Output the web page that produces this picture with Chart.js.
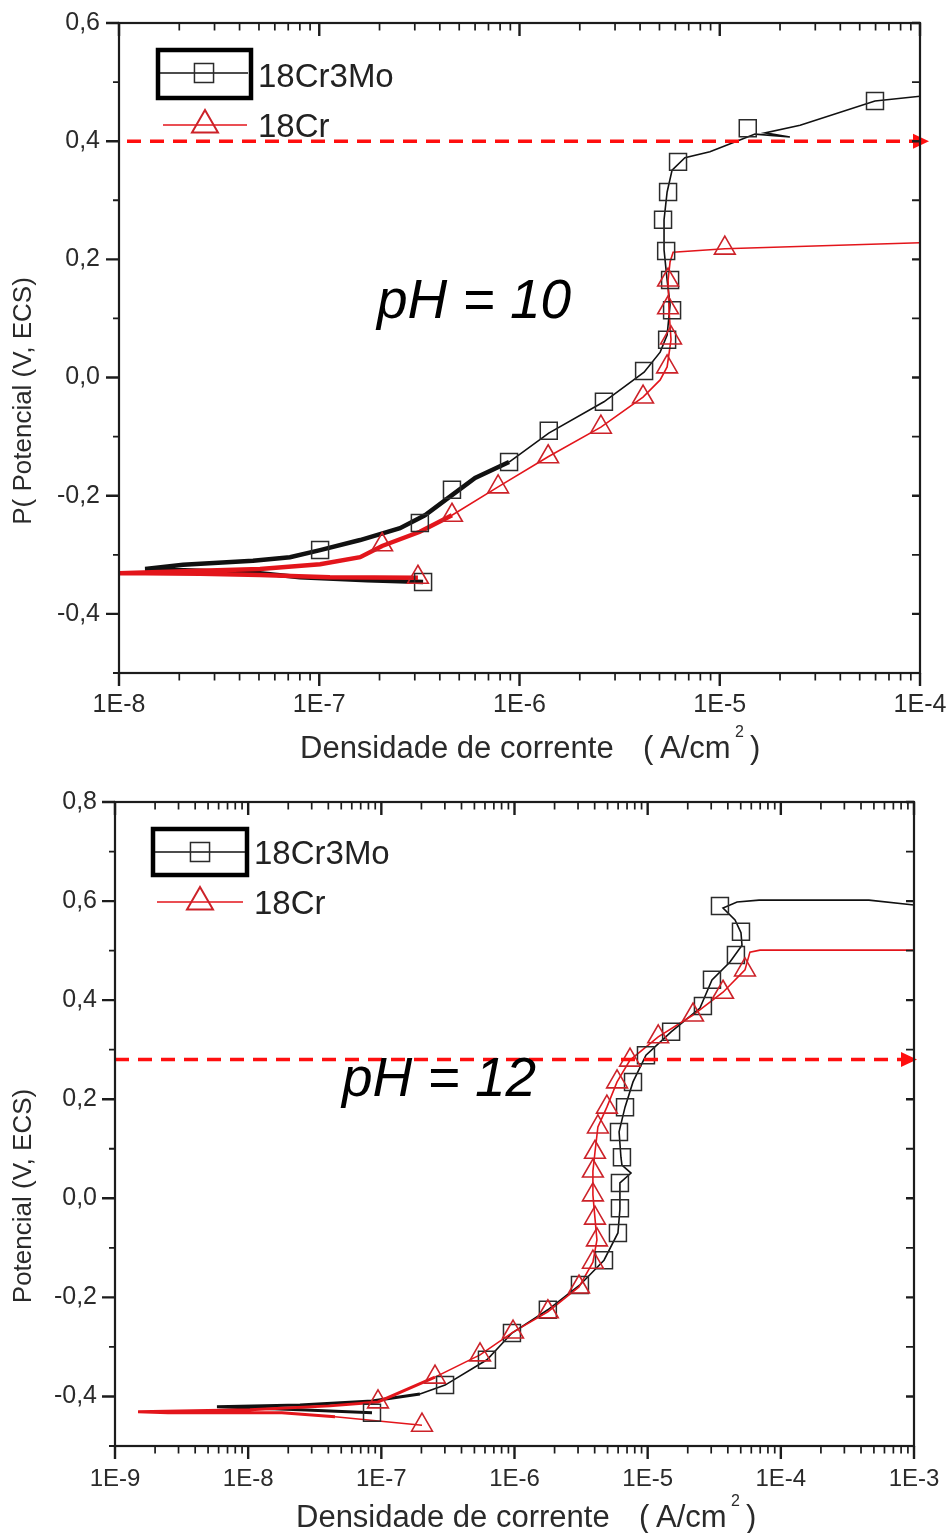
<!DOCTYPE html>
<html>
<head>
<meta charset="utf-8">
<script src="https://cdn.jsdelivr.net/npm/chart.js@4.4.1/dist/chart.umd.min.js"></script>
<style>
html,body{margin:0;padding:0;background:#fff;}
#wrap{position:relative;width:952px;height:1533px;overflow:hidden;}
canvas{position:absolute;left:0;}
#c1{top:0;}
#c2{top:770px;}
</style>
</head>
<body>
<div id="wrap">
<canvas id="c1" width="952" height="770"></canvas>
<canvas id="c2" width="952" height="763"></canvas>
</div>
<script>
// ---------- texts ----------
const seriesNames = ['18Cr3Mo', '18Cr'];
const yTitle10 = 'P( Potencial (V, ECS)';
const yTitle12 = 'Potencial (V, ECS)';
const xTitleParts = ['Densidade de corrente', '(', 'A/cm', '2', ')'];
const annot10 = 'pH = 10';
const annot12 = 'pH = 12';

// ---------- pH 10 ----------
const ph10XTicks = [1e-8, 1e-7, 1e-6, 1e-5, 1e-4];
const ph10XLabels = ['1E-8', '1E-7', '1E-6', '1E-5', '1E-4'];
const ph10YTicks = [-0.4, -0.2, 0, 0.2, 0.4, 0.6];
const ph10YLabels = ['-0,4', '-0,2', '0,0', '0,2', '0,4', '0,6'];
const ph10Ref = 0.4;

const ph10MoJ = [3.30e-7,1.73e-7,8.0e-8,5.06e-8,2.54e-8,1.35e-8,2.09e-8,4.67e-8,7.14e-8,1.01e-7,1.60e-7,2.53e-7,3.37e-7,4.60e-7,6.0e-7,8.87e-7,1.40e-6,2.64e-6,4.19e-6,5.04e-6,5.46e-6,5.65e-6,5.46e-6,5.27e-6,5.27e-6,5.46e-6,5.78e-6,6.70e-6,8.93e-6,1.26e-5,1.50e-5,2.24e-5,1.68e-5,2.52e-5,5.96e-5,1.0e-4];
const ph10MoE = [-0.346,-0.343,-0.338,-0.331,-0.327,-0.324,-0.317,-0.310,-0.304,-0.292,-0.275,-0.255,-0.233,-0.199,-0.170,-0.143,-0.094,-0.041,0.009,0.043,0.072,0.123,0.165,0.216,0.267,0.314,0.351,0.372,0.382,0.402,0.412,0.407,0.414,0.427,0.468,0.476];
const ph10MoMarkJ = [3.30e-7,1.01e-7,3.18e-7,4.60e-7,8.87e-7,1.40e-6,2.64e-6,4.19e-6,5.46e-6,5.78e-6,5.65e-6,5.40e-6,5.21e-6,5.52e-6,6.19e-6,1.38e-5,5.96e-5];
const ph10MoMarkE = [-0.346,-0.292,-0.246,-0.190,-0.143,-0.090,-0.041,0.011,0.064,0.114,0.165,0.214,0.267,0.314,0.365,0.422,0.468];

const ph10CrJ = [3.11e-7,1.13e-7,5.06e-8,2.54e-8,1.35e-8,1.0e-8,2.54e-8,5.06e-8,1.01e-7,1.60e-7,2.06e-7,3.18e-7,4.60e-7,7.82e-7,1.39e-6,2.55e-6,4.14e-6,5.04e-6,5.46e-6,5.71e-6,5.58e-6,5.52e-6,5.65e-6,5.85e-6,1.06e-5,1.0e-4];
const ph10CrE = [-0.339,-0.338,-0.334,-0.332,-0.331,-0.331,-0.327,-0.324,-0.316,-0.304,-0.285,-0.261,-0.233,-0.185,-0.134,-0.084,-0.033,-0.004,0.018,0.064,0.114,0.165,0.196,0.212,0.218,0.228];
const ph10CrMarkJ = [3.11e-7,2.06e-7,4.60e-7,7.82e-7,1.39e-6,2.55e-6,4.14e-6,5.46e-6,5.71e-6,5.52e-6,5.52e-6,1.06e-5];
const ph10CrMarkE = [-0.338,-0.283,-0.233,-0.185,-0.134,-0.084,-0.033,0.018,0.067,0.118,0.165,0.219];

// ---------- pH 12 ----------
const ph12XTicks = [1e-9, 1e-8, 1e-7, 1e-6, 1e-5, 1e-4, 1e-3];
const ph12XLabels = ['1E-9', '1E-8', '1E-7', '1E-6', '1E-5', '1E-4', '1E-3'];
const ph12YTicks = [-0.4, -0.2, 0, 0.2, 0.4, 0.6, 0.8];
const ph12YLabels = ['-0,4', '-0,2', '0,0', '0,2', '0,4', '0,6', '0,8'];
const ph12Ref = 0.28;

const ph12MoJ = [8.51e-8,2.45e-8,5.83e-9,2.45e-8,8.51e-8,1.95e-7,3.01e-7,6.21e-7,9.57e-7,1.78e-6,3.10e-6,4.70e-6,5.98e-6,6.19e-6,6.19e-6,7.50e-6,6.41e-6,6.30e-6,6.10e-6,6.76e-6,7.76e-6,9.71e-6,1.50e-5,2.47e-5,3.04e-5,4.15e-5,5.11e-5,5.02e-5,4.53e-5,3.68e-5,4.69e-5,6.86e-5,4.59e-4,1.0e-3];
const ph12MoE = [-0.433,-0.427,-0.421,-0.417,-0.409,-0.395,-0.377,-0.326,-0.272,-0.225,-0.175,-0.125,-0.070,-0.022,0.031,0.051,0.067,0.083,0.134,0.184,0.235,0.289,0.336,0.384,0.441,0.477,0.511,0.536,0.562,0.586,0.598,0.602,0.602,0.592];
const ph12MoMarkJ = [8.51e-8,3.01e-7,6.21e-7,9.57e-7,1.78e-6,3.10e-6,4.70e-6,5.98e-6,6.19e-6,6.19e-6,6.41e-6,6.09e-6,6.76e-6,7.76e-6,9.71e-6,1.50e-5,2.60e-5,3.04e-5,4.60e-5,5.02e-5,3.49e-5];
const ph12MoMarkE = [-0.433,-0.377,-0.326,-0.272,-0.225,-0.175,-0.125,-0.070,-0.020,0.031,0.083,0.134,0.184,0.235,0.289,0.336,0.388,0.441,0.491,0.538,0.590];

const ph12CrJ = [2.02e-7,4.49e-8,1.79e-8,2.50e-9,1.49e-9,1.03e-8,4.11e-8,9.44e-8,2.53e-7,5.51e-7,9.75e-7,1.78e-6,3.05e-6,3.88e-6,4.16e-6,4.02e-6,3.88e-6,3.88e-6,4.02e-6,4.23e-6,4.94e-6,5.89e-6,7.37e-6,1.20e-5,2.19e-5,3.68e-5,5.38e-5,5.86e-5,6.97e-5,1.0e-3];
const ph12CrE = [-0.458,-0.441,-0.433,-0.433,-0.431,-0.427,-0.419,-0.411,-0.361,-0.316,-0.270,-0.229,-0.179,-0.129,-0.084,-0.040,0.007,0.055,0.093,0.144,0.184,0.235,0.279,0.326,0.370,0.416,0.461,0.497,0.501,0.501];
const ph12CrMarkJ = [2.02e-7,9.44e-8,2.53e-7,5.51e-7,9.75e-7,1.78e-6,3.05e-6,3.88e-6,4.16e-6,4.02e-6,3.88e-6,3.88e-6,4.02e-6,4.23e-6,4.94e-6,5.89e-6,7.37e-6,1.20e-5,2.19e-5,3.68e-5,5.38e-5];
const ph12CrMarkE = [-0.458,-0.411,-0.361,-0.316,-0.270,-0.229,-0.179,-0.129,-0.084,-0.040,0.007,0.055,0.093,0.144,0.184,0.235,0.279,0.326,0.370,0.416,0.461];

// ---------- helpers ----------
const FONT = '"Liberation Sans", Arial, sans-serif';
const BLACK = '#111111';
const SQ = '#2b2b2b';
const RED_LINE = '#e3151b';
const RED_MARK = '#cc2229';
const AXIS = '#1c1c1c';
const TXT = '#2a2a2a';

function pts(xs, ys) { return xs.map((v, i) => ({x: v, y: ys[i]})); }
function noPad(s) { s.paddingLeft = 0; s.paddingRight = 0; s.paddingTop = 0; s.paddingBottom = 0; }

const decor = {
  id: 'decor',
  afterDatasetsDraw(chart, args, o) {
    const {ctx, chartArea: a, scales: {y}} = chart;
    const ry = y.getPixelForValue(o.ref);
    ctx.save();
    ctx.strokeStyle = '#ff0f0f';
    ctx.fillStyle = '#ff0f0f';
    ctx.lineWidth = 3.5;
    ctx.setLineDash([14, 9]);
    ctx.beginPath();
    ctx.moveTo(a.left + o.dashStart, ry);
    ctx.lineTo(a.right + o.arrowTip - 14, ry);
    ctx.stroke();
    ctx.setLineDash([]);
    const tip = a.right + o.arrowTip;
    ctx.beginPath();
    ctx.moveTo(tip, ry);
    ctx.lineTo(tip - 16, ry - 7.5);
    ctx.lineTo(tip - 16, ry + 7.5);
    ctx.closePath();
    ctx.fill();
    ctx.restore();
  },
  afterDraw(chart, args, o) {
    const {ctx, chartArea: a, scales: {x, y}} = chart;
    ctx.save();
    // frame
    ctx.strokeStyle = AXIS;
    ctx.lineWidth = 2.2;
    ctx.strokeRect(a.left, a.top, a.right - a.left, a.bottom - a.top);
    // x ticks (log, major + minor), bottom outward, top inward
    const d0 = Math.round(Math.log10(x.min)), d1 = Math.round(Math.log10(x.max));
    for (let d = d0; d <= d1; d++) {
      for (let m = 1; m <= 9; m++) {
        const v = m * Math.pow(10, d);
        if (v > x.max * 1.0001) continue;
        const px = x.getPixelForValue(v);
        const major = m === 1;
        ctx.lineWidth = major ? 2.4 : 1.7;
        const L = major ? 13 : 7.5;
        ctx.beginPath();
        ctx.moveTo(px, a.bottom); ctx.lineTo(px, a.bottom + L);
        ctx.moveTo(px, a.top); ctx.lineTo(px, a.top + L);
        ctx.stroke();
      }
    }
    // y ticks
    const majors = y.ticks.map(t => Math.round(t.value * 10));
    for (let k = Math.round(y.min * 10); k <= Math.round(y.max * 10); k++) {
      const py = y.getPixelForValue(k / 10);
      const major = majors.includes(k);
      ctx.lineWidth = major ? 2.4 : 1.8;
      ctx.beginPath();
      ctx.moveTo(a.left, py); ctx.lineTo(a.left - (major ? 13 : 6), py);
      ctx.moveTo(a.right, py); ctx.lineTo(a.right - 8, py);
      ctx.stroke();
    }
    // legend
    const ds = chart.data.datasets;
    const L = o.legend;
    ctx.lineWidth = 4.5;
    ctx.strokeStyle = '#000';
    ctx.strokeRect(L.box[0], L.box[1], L.box[2] - L.box[0], L.box[3] - L.box[1]);
    ctx.lineWidth = 1.6;
    ctx.strokeStyle = BLACK;
    ctx.beginPath(); ctx.moveTo(L.l1[0], L.l1[2]); ctx.lineTo(L.l1[1], L.l1[2]); ctx.stroke();
    ctx.fillStyle = 'rgba(0,0,0,0)';
    ctx.strokeStyle = SQ;
    ctx.lineWidth = 1.5;
    Chart.helpers.drawPoint(ctx, {pointStyle: 'rect', radius: 13.5, rotation: 0, borderWidth: 1.5}, (L.l1[0] + L.l1[1]) / 2, L.l1[2]);
    ctx.strokeStyle = RED_LINE;
    ctx.lineWidth = 1.6;
    ctx.beginPath(); ctx.moveTo(L.l2[0], L.l2[2]); ctx.lineTo(L.l2[1], L.l2[2]); ctx.stroke();
    ctx.strokeStyle = RED_MARK;
    ctx.lineWidth = 2;
    ctx.fillStyle = 'rgba(0,0,0,0)';
    Chart.helpers.drawPoint(ctx, {pointStyle: 'triangle', radius: 15, rotation: 0, borderWidth: 2}, (L.l2[0] + L.l2[1]) / 2, L.l2[2]);
    ctx.fillStyle = '#222';
    ctx.font = '33px ' + FONT;
    ctx.textAlign = 'left';
    ctx.textBaseline = 'alphabetic';
    ctx.fillText(ds[0].label, L.tx, L.t1);
    ctx.fillText(ds[1].label, L.tx, L.t2);
    // annotation
    ctx.fillStyle = '#000';
    ctx.font = 'italic 55px ' + FONT;
    ctx.textAlign = 'center';
    ctx.fillText(o.annot, o.annotPos[0], o.annotPos[1]);
    // x title
    const xt = o.xTitle;
    ctx.fillStyle = TXT;
    ctx.textAlign = 'left';
    ctx.font = '31px ' + FONT;
    ctx.fillText(xTitleParts[0], xt[0], xt[1]);
    ctx.fillText(xTitleParts[1], xt[0] + 343, xt[1]);
    ctx.fillText(xTitleParts[2], xt[0] + 360, xt[1]);
    ctx.fillText(xTitleParts[4], xt[0] + 450, xt[1]);
    ctx.font = '16px ' + FONT;
    ctx.fillText(xTitleParts[3], xt[0] + 435, xt[1] - 21);
    // y title
    ctx.save();
    ctx.translate(o.yTitlePos[0], o.yTitlePos[1]);
    ctx.rotate(-Math.PI / 2);
    ctx.font = '26px ' + FONT;
    ctx.textAlign = 'center';
    ctx.textBaseline = 'middle';
    ctx.fillStyle = TXT;
    ctx.fillText(o.yTitle, 0, 0);
    ctx.restore();
    ctx.restore();
  }
};

function build(id, d) {
  return new Chart(document.getElementById(id), {
    type: 'scatter',
    data: {
      datasets: [
        {label: seriesNames[0], data: pts(d.moJ, d.moE), showLine: true, borderColor: BLACK, borderWidth: 1.6,
         pointRadius: 0, order: 3, segment: {borderWidth: c => (c.p0.parsed.x < d.moThick ? d.thickW : 1.6)}},
        {label: seriesNames[1], data: pts(d.crJ, d.crE), showLine: true, borderColor: RED_LINE, borderWidth: 1.6,
         pointRadius: 0, order: 2, segment: {borderWidth: c => (c.p0.parsed.x < d.crThick ? d.thickW : 1.6)}},
        {label: seriesNames[0] + ' ', data: pts(d.moMJ, d.moME), showLine: false, pointStyle: 'rect', pointRadius: 12,
         pointBorderColor: SQ, pointBackgroundColor: 'rgba(0,0,0,0)', pointBorderWidth: 1.5, order: 1},
        {label: seriesNames[1] + ' ', data: pts(d.crMJ, d.crME), showLine: false, pointStyle: 'triangle', pointRadius: 12,
         pointBorderColor: RED_MARK, pointBackgroundColor: 'rgba(0,0,0,0)', pointBorderWidth: 1.6, order: 0}
      ]
    },
    options: {
      responsive: false,
      animation: false,
      events: [],
      layout: {padding: d.pad},
      scales: {
        x: {
          type: 'logarithmic', min: d.xTicks[0], max: d.xTicks[d.xTicks.length - 1],
          afterBuildTicks: s => { s.ticks = d.xTicks.map(v => ({value: v})); },
          afterFit: s => { s.height = d.xH; noPad(s); },
          grid: {display: false, drawTicks: false},
          border: {display: false},
          ticks: {callback: (v, i) => d.xLabels[i], padding: d.xPad, color: TXT, font: {family: FONT, size: d.xFont}, maxRotation: 0, autoSkip: false}
        },
        y: {
          type: 'linear', min: d.yMin, max: d.yMax,
          afterBuildTicks: s => { s.ticks = d.yTicks.map(v => ({value: v})); },
          afterFit: s => { s.width = d.yW; noPad(s); },
          grid: {display: false, drawTicks: false},
          border: {display: false},
          ticks: {callback: (v, i) => d.yLabels[i], padding: d.yPad, color: TXT, font: {family: FONT, size: 25}}
        }
      },
      plugins: {
        legend: {display: false},
        tooltip: {enabled: false},
        decor: d.decor
      }
    },
    plugins: [decor]
  });
}

build('c1', {
  moJ: ph10MoJ, moE: ph10MoE, moMJ: ph10MoMarkJ, moME: ph10MoMarkE,
  crJ: ph10CrJ, crE: ph10CrE, crMJ: ph10CrMarkJ, crME: ph10CrMarkE,
  moThick: 6.2e-7, crThick: 3.5e-7, thickW: 4.5,
  xTicks: ph10XTicks, xLabels: ph10XLabels, yTicks: ph10YTicks, yLabels: ph10YLabels,
  yMin: -0.5, yMax: 0.6,
  pad: {top: 23, right: 32, left: 0, bottom: 0}, xH: 97, yW: 119, xPad: 17, yPad: 19, xFont: 25,
  decor: {ref: ph10Ref, dashStart: 8, arrowTip: 9, annot: annot10, annotPos: [474, 318],
    xTitle: [300, 758], yTitle: yTitle10, yTitlePos: [24, 401],
    legend: {box: [158, 50, 251, 98], l1: [160, 248, 73], l2: [163, 247, 125], tx: 258, t1: 87, t2: 137}}
});

build('c2', {
  moJ: ph12MoJ, moE: ph12MoE, moMJ: ph12MoMarkJ, moME: ph12MoMarkE,
  crJ: ph12CrJ, crE: ph12CrE, crMJ: ph12CrMarkJ, crME: ph12CrMarkE,
  moThick: 1.2e-7, crThick: 1.2e-7, thickW: 3,
  xTicks: ph12XTicks, xLabels: ph12XLabels, yTicks: ph12YTicks, yLabels: ph12YLabels,
  yMin: -0.5, yMax: 0.8,
  pad: {top: 32, right: 38, left: 0, bottom: 0}, xH: 87, yW: 115, xPad: 19, yPad: 18, xFont: 24,
  decor: {ref: ph12Ref, dashStart: 0, arrowTip: 3, annot: annot12, annotPos: [439, 326],
    xTitle: [296, 757], yTitle: yTitle12, yTitlePos: [24, 426],
    legend: {box: [153, 59, 247, 105], l1: [155, 245, 82], l2: [157, 243, 132], tx: 254, t1: 94, t2: 144}}
});
</script>
</body>
</html>
